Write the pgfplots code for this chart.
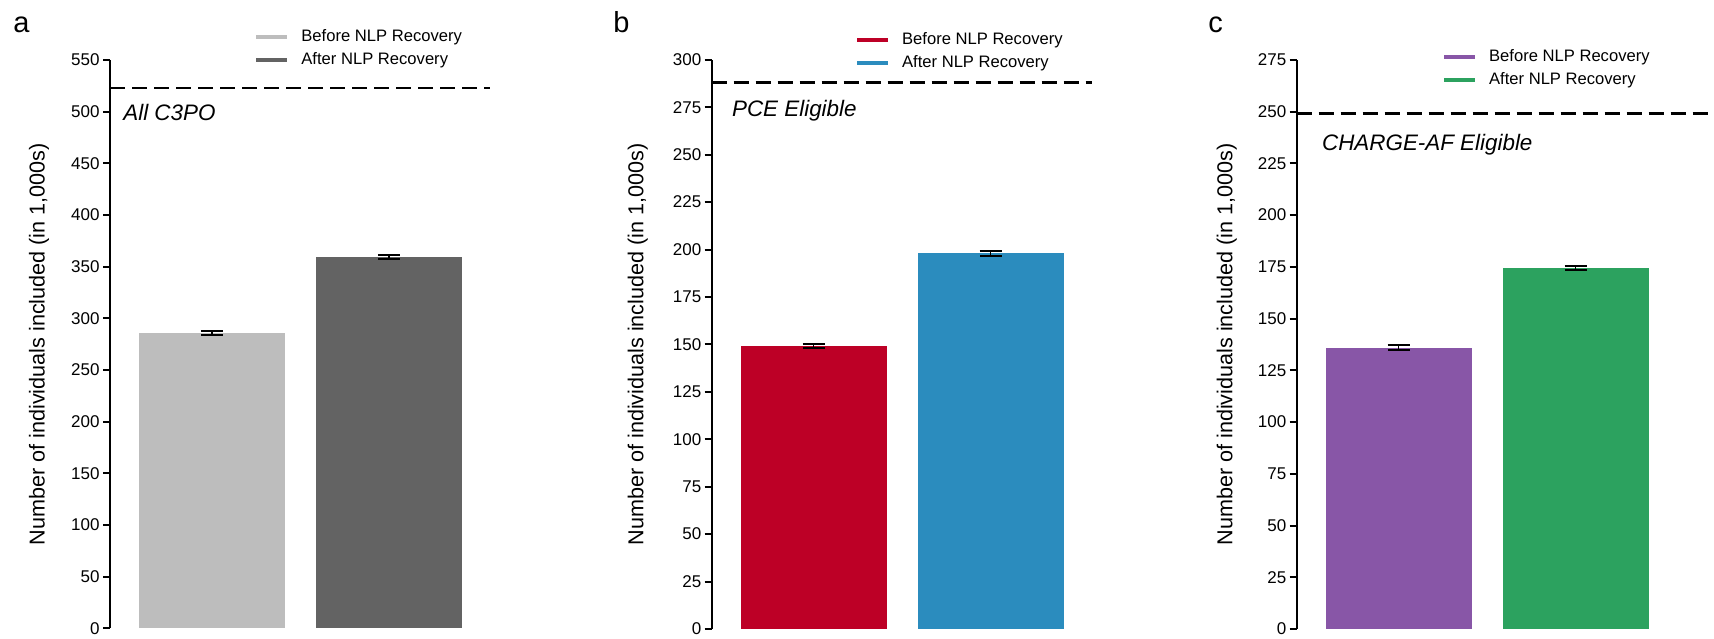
\documentclass[border=0pt]{standalone}
\usepackage{fontspec}
\setmainfont{Liberation Sans}
\usepackage{pgfplots}
\pgfplotsset{compat=1.18}
\definecolor{ga}{HTML}{BDBDBD}
\definecolor{gb}{HTML}{636363}
\definecolor{ra}{HTML}{BD0026}
\definecolor{rb}{HTML}{2B8CBE}
\definecolor{pa}{HTML}{8856A7}
\definecolor{pb}{HTML}{2CA25F}
\tikzset{note/.style={anchor=west, inner sep=0pt, font=\itshape\fontsize{11.2}{13}\selectfont}}
\pgfplotsset{
  panel/.style={
    scale only axis,
    axis x line=none, axis y line*=left,
    ymin=0, xmin=0.424,
    y axis line style={line width=1pt, black},
    tick align=outside, major tick length=3.5pt,
    ytick style={line width=1pt, black},
    tick label style={font=\fontsize{8.5}{10}\selectfont},
    /pgf/number format/assume math mode=true,
    yticklabel style={inner sep=1.5pt},
    label style={font=\fontsize{10.8}{12}\selectfont},
    clip=false,
    legend style={draw=none, fill=none, inner sep=0pt, anchor=west,
      font=\fontsize{8.3}{10}\selectfont, cells={anchor=west}, row sep=0pt,
      /tikz/every odd column/.append style={column sep=4pt}},
    legend image code/.code={\draw[##1, line width=2pt] (0pt,0pt) -- (15.5pt,0pt);},
  },
  bars/.style={ybar, bar shift=0pt, bar width=0.825, draw=none,
    error bars/y dir=both, error bars/y explicit,
    error bars/error mark=|,
    error bars/error bar style={line width=0.8pt, black},
    error bars/error mark options={mark size=5.5pt, line width=1pt, black}},
  ref/.style={black, line width=1.3pt, dash pattern=on 7.5pt off 3.5pt, forget plot},
}
\begin{document}
\begin{tikzpicture}
\useasboundingbox (0,0) rectangle (857pt,319pt);
% panel a
\begin{axis}[panel, at={(55pt,4.8pt)}, anchor=south west,
  width=190pt, height=284.2pt, xmax=2.571, ymax=550,
  ytick={0,50,...,550},
  ylabel={Number of individuals included (in 1,000s)},
  ylabel style={at={([xshift=-35.5pt]axis description cs:0,0.5)}, anchor=center, rotate=0},
  legend style={at={([xshift=72pt,yshift=5.8pt]rel axis cs:0,1)}}]
\addplot[bars, fill=ga, forget plot] coordinates {(1,286) +- (0,2)};
\addplot[bars, fill=gb, forget plot] coordinates {(2,359.5) +- (0,2)};
\addplot[ref] coordinates {(0.424,523) (2.571,523)};
\addlegendimage{ga}
\addlegendentry{Before NLP Recovery}
\addlegendimage{gb}
\addlegendentry{After NLP Recovery}
\node[note] at ([xshift=6.5pt]axis cs:0.424,499) {All C3PO};
\end{axis}
% panel b
\begin{axis}[panel, at={(355.85pt,4.5pt)}, anchor=south west,
  width=190pt, height=284.6pt, xmax=2.571, ymax=300,
  ytick={0,25,...,300},
  ylabel={Number of individuals included (in 1,000s)},
  ylabel style={at={([xshift=-37pt]axis description cs:0,0.5)}, anchor=center, rotate=0},
  legend style={at={([xshift=71.5pt,yshift=4pt]rel axis cs:0,1)}}]
\addplot[bars, fill=ra, forget plot] coordinates {(1,149) +- (0,1)};
\addplot[bars, fill=rb, forget plot] coordinates {(2,198) +- (0,1.2)};
\addplot[ref] coordinates {(0.424,288) (2.571,288)};
\addlegendimage{ra}
\addlegendentry{Before NLP Recovery}
\addlegendimage{rb}
\addlegendentry{After NLP Recovery}
\node[note] at ([xshift=10pt]axis cs:0.424,273) {PCE Eligible};
\end{axis}
% panel c
\begin{axis}[panel, at={(648.35pt,4.5pt)}, anchor=south west,
  width=208.5pt, height=284.6pt, xmax=2.780, ymax=275,
  ytick={0,25,...,275},
  ylabel={Number of individuals included (in 1,000s)},
  ylabel style={at={([xshift=-35pt]axis description cs:0,0.5)}, anchor=center, rotate=0},
  legend style={at={([xshift=72.5pt,yshift=-4.2pt]rel axis cs:0,1)}}]
\addplot[bars, fill=pa, forget plot] coordinates {(1,136) +- (0,1)};
\addplot[bars, fill=pb, forget plot] coordinates {(2,174.5) +- (0,1)};
\addplot[ref] coordinates {(0.424,249) (2.780,249)};
\addlegendimage{pa}
\addlegendentry{Before NLP Recovery}
\addlegendimage{pb}
\addlegendentry{After NLP Recovery}
\node[note] at ([xshift=12.5pt]axis cs:0.424,234) {CHARGE-AF Eligible};
\end{axis}
\node[anchor=base west, inner sep=0pt, font=\fontsize{14.5}{16}\selectfont] at (6.5pt,302.5pt) {a};
\node[anchor=base west, inner sep=0pt, font=\fontsize{14.5}{16}\selectfont] at (306.5pt,302.5pt) {b};
\node[anchor=base west, inner sep=0pt, font=\fontsize{14.5}{16}\selectfont] at (604pt,302.5pt) {c};
\end{tikzpicture}
\end{document}
